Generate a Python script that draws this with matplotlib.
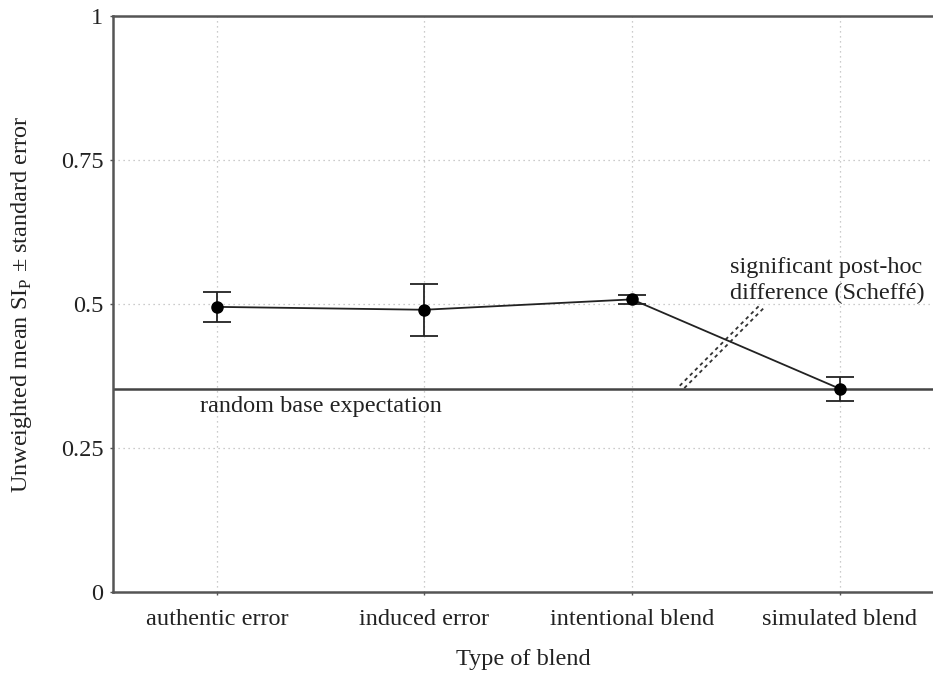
import matplotlib
matplotlib.use("Agg")
import matplotlib.pyplot as plt

categories = ["authentic error", "induced error", "intentional blend", "simulated blend"]
means = [0.495, 0.490, 0.508, 0.353]
errors = [0.026, 0.045, 0.008, 0.021]
baseline = 0.352
yticks = [0, 0.25, 0.5, 0.75, 1]
yticklabels = ["0", "0.25", "0.5", "0.75", "1"]

plt.rcParams['font.family'] = ['Liberation Serif', 'DejaVu Serif']
FS = 17.5

fig = plt.figure(figsize=(9.33, 6.73), dpi=100)
ax = fig.add_axes([0.1211, 0.1204, 0.8789, 0.8558])

x = list(range(len(categories)))
ax.grid(True, linestyle=(0, (1, 3)), color='#bbbbbb', linewidth=0.9)
ax.set_axisbelow(True)

ax.axhline(baseline, color='#444444', linewidth=1.8, zorder=2)
ax.errorbar(x, means, yerr=errors, color='#222222', linewidth=1.3, marker='o',
            markersize=8, markerfacecolor='black', markeredgecolor='black',
            capsize=10, capthick=1.3, elinewidth=1.3, zorder=3)

ax.text(-0.08, baseline - 0.012, "random base expectation", fontsize=FS,
        va='top', ha='left', color='#222222')

# dashed significance marker
for dx in (0.0, 0.022):
    ax.plot([2.23 + dx, 2.61 + dx], [0.358 - 0.004 * (dx > 0), 0.496 - 0.004 * (dx > 0)],
            linestyle=(0, (2, 2)), color='#333333', linewidth=1.3, zorder=2)
ax.text(2.47, 0.54, "significant post-hoc\ndifference (Scheffé)", fontsize=FS,
        va='center', ha='left', color='#222222', linespacing=1.3)

ax.set_xlim(-0.5, 3.45)
ax.set_ylim(0, 1)
ax.set_xticks(x)
ax.set_xticklabels(categories, fontsize=FS, color='#222222')
ax.set_yticks(yticks)
ax.set_yticklabels(yticklabels, fontsize=FS, color='#222222')
ax.tick_params(axis='x', length=2, width=1, pad=10, colors='#555555', labelcolor='#222222')
ax.tick_params(axis='y', length=2, width=1, pad=5, colors='#555555', labelcolor='#222222')

for s in ['left', 'bottom', 'top']:
    ax.spines[s].set_color('#555555')
    ax.spines[s].set_linewidth(1.8)
ax.spines['right'].set_visible(False)

ax.set_xlabel("Type of blend", fontsize=FS, labelpad=14, color='#222222')
ax.set_ylabel("Unweighted mean SI$_\\mathregular{P}$ ± standard error", fontsize=FS,
              labelpad=19, color='#222222')

fig.savefig("out.png", dpi=100)
